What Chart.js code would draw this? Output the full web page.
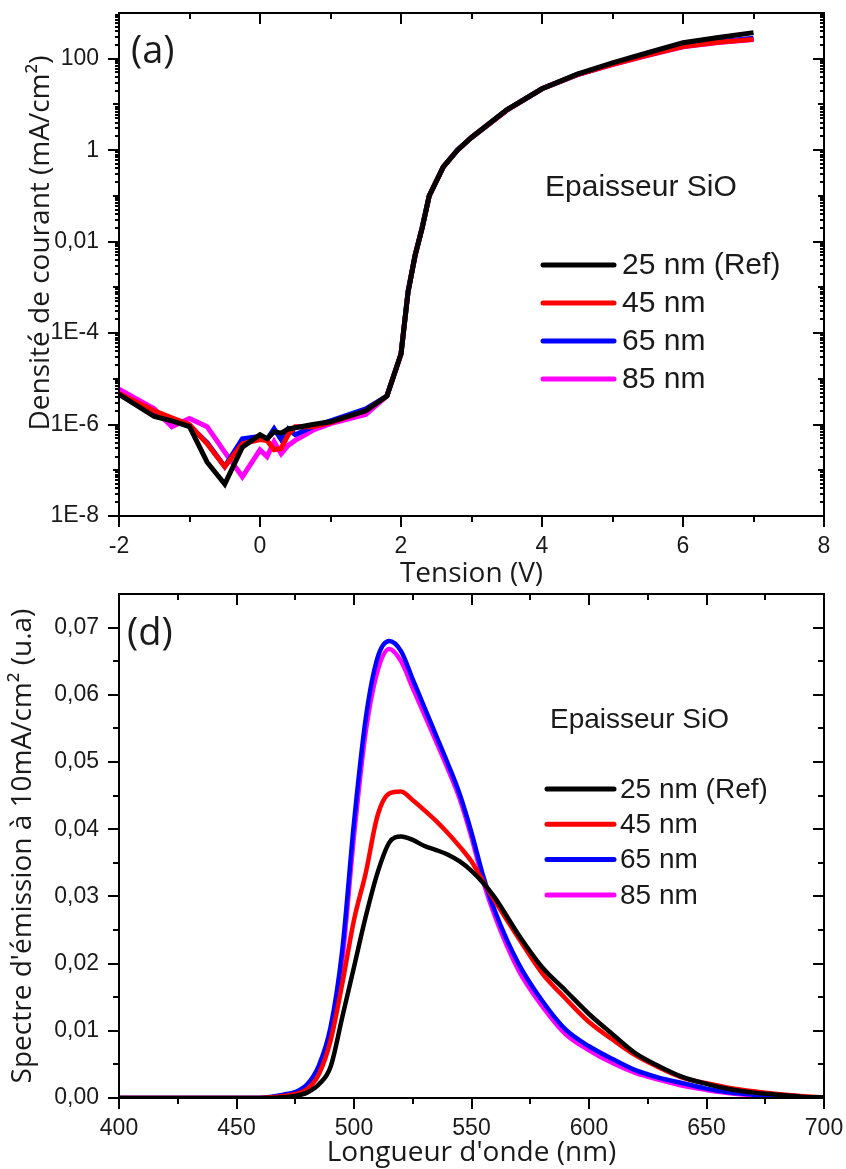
<!DOCTYPE html>
<html>
<head>
<meta charset="utf-8">
<script src="https://cdn.jsdelivr.net/npm/chart.js@4.4.1/dist/chart.umd.min.js"></script>
<style>
    html, body { margin: 0; padding: 0; background: #fff; }
    #page { position: relative; width: 846px; height: 1169px; }
    canvas { position: absolute; left: 0; }
    #grapheA { top: 0; }
    #grapheD { top: 580px; }
</style>
</head>
<body>
<div id="page">
    <canvas id="grapheA" width="846" height="590"></canvas>
    <canvas id="grapheD" width="846" height="589"></canvas>
</div>
<script>
// Séries (épaisseur de SiO) et couleurs
var series = ['25 nm (Ref)', '45 nm', '65 nm', '85 nm'];
var couleurs = ['#000000', '#ff0000', '#0000ff', '#ff00ff'];

// (a) Densité de courant (mA/cm²) en fonction de la tension (V)
var tension = [-2, -1.5, -1.25, -1, -0.75, -0.5, -0.25, 0, 0.1, 0.2, 0.3, 0.4, 0.5, 0.75, 1, 1.5, 1.8,
    2, 2.1, 2.2, 2.3, 2.4, 2.6, 2.8, 3, 3.5, 4, 4.5, 5, 5.5, 6, 6.5, 7];
var densite25 = [4.6e-6, 1.5e-6, 1.2e-6, 9e-7, 1.5e-7, 5e-8, 3.2e-7, 6e-7, 4.9e-7, 7e-7, 6.5e-7, 8e-7, 8.5e-7, 1.0e-6, 1.15e-6, 2.0e-6, 4.2e-6,
    3.5e-5, 8e-4, 5e-3, 0.02, 0.1, 0.43, 1.0, 1.9, 7.6, 22, 46, 81, 135, 224, 290, 372];
var densite45 = [4.8e-6, 2.0e-6, 1.4e-6, 1.0e-6, 3.8e-7, 1.2e-7, 3.8e-7, 4.7e-7, 4.5e-7, 2.8e-7, 3.0e-7, 6e-7, 9e-7, 9e-7, 1.1e-6, 2.0e-6, 4.2e-6,
    3.5e-5, 8e-4, 5e-3, 0.02, 0.1, 0.43, 1.0, 1.9, 7.5, 22, 45, 75, 120, 185, 228, 265];
var densite65 = [4.6e-6, 1.7e-6, 1.3e-6, 9.5e-7, 4e-7, 1.2e-7, 4.9e-7, 5.5e-7, 4.7e-7, 8.1e-7, 4.7e-7, 8e-7, 6e-7, 9e-7, 1.2e-6, 2.2e-6, 4.2e-6,
    3.5e-5, 8e-4, 5e-3, 0.02, 0.1, 0.43, 1.0, 1.9, 7.5, 22, 45, 77, 122, 190, 235, 280];
var densite85 = [5.9e-6, 2.2e-6, 9e-7, 1.35e-6, 9e-7, 2.5e-7, 7.2e-8, 2.8e-7, 2.0e-7, 4.2e-7, 2.3e-7, 3.5e-7, 4.5e-7, 7.5e-7, 1.05e-6, 1.66e-6, 4.2e-6,
    3.5e-5, 8e-4, 5e-3, 0.02, 0.1, 0.43, 1.0, 1.9, 7.5, 22, 45, 74, 118, 182, 225, 263];
var tensionTicks = [-2, 0, 2, 4, 6, 8];
var tensionTicksMineurs = [-1, 1, 3, 5, 7];
var densiteTicks = [1e-8, 1e-6, 1e-4, 1e-2, 1, 100];
var densiteLabels = ['1E-8', '1E-6', '1E-4', '0,01', '1', '100'];

// (d) Spectre d'émission à 10 mA/cm² en fonction de la longueur d'onde (nm)
var longueurOnde = [400, 420, 440, 460, 465, 470, 475, 480, 485, 490, 495, 500, 505, 510, 515, 520, 525, 530, 535, 540,
    545, 550, 555, 560, 570, 580, 590, 600, 610, 620, 630, 640, 650, 660, 670, 680, 690, 700];
var spectre25 = [0, 0, 0, 0, 0, 0.0001, 0.0003, 0.0008, 0.002, 0.0046, 0.012, 0.0195, 0.027, 0.0335, 0.038, 0.0389, 0.0384, 0.0375, 0.0369, 0.0362,
    0.0352, 0.0338, 0.032, 0.0298, 0.0243, 0.0195, 0.016, 0.0125, 0.0095, 0.0066, 0.0047, 0.0031, 0.0021, 0.0013, 0.0008, 0.0005, 0.0002, 0.0001];
var spectre45 = [0, 0, 0, 0, 0.0001, 0.0003, 0.0006, 0.0013, 0.0035, 0.0085, 0.017, 0.0265, 0.0335, 0.042, 0.0453, 0.0456, 0.0443, 0.0428, 0.0412, 0.0394,
    0.0374, 0.0352, 0.0322, 0.0293, 0.0238, 0.0186, 0.0148, 0.0113, 0.0087, 0.0063, 0.0045, 0.003, 0.0022, 0.0015, 0.001, 0.0006, 0.0003, 0.0001];
var spectre65 = [0, 0, 0, 0, 0.0002, 0.0005, 0.0009, 0.002, 0.0048, 0.0105, 0.022, 0.041, 0.0565, 0.0655, 0.068, 0.0665, 0.0623, 0.0581, 0.0539, 0.0497,
    0.0452, 0.0395, 0.033, 0.0278, 0.020, 0.0145, 0.0102, 0.0077, 0.0058, 0.0041, 0.003, 0.0022, 0.0014, 0.0008, 0.0005, 0.0003, 0.0001, 0];
var spectre85 = [0, 0, 0, 0, 0.0001, 0.0004, 0.0007, 0.0017, 0.0042, 0.0095, 0.0205, 0.039, 0.0545, 0.0635, 0.0668, 0.065, 0.061, 0.057, 0.053, 0.0489,
    0.0445, 0.0388, 0.0322, 0.027, 0.019, 0.0137, 0.0095, 0.0071, 0.0052, 0.0037, 0.0027, 0.0018, 0.0012, 0.0007, 0.0004, 0.0002, 0.0001, 0];
var ondeTicks = [400, 450, 500, 550, 600, 650, 700];
var ondeTicksMineurs = [425, 475, 525, 575, 625, 675];
var spectreTicks = [0, 0.01, 0.02, 0.03, 0.04, 0.05, 0.06, 0.07];
var spectreLabels = ['0,00', '0,01', '0,02', '0,03', '0,04', '0,05', '0,06', '0,07'];
var spectreTicksMineurs = [0.005, 0.015, 0.025, 0.035, 0.045, 0.055, 0.065];

var policeTicks = { family: '"Liberation Sans", Arial, sans-serif', size: 23 };
var policeTitre = { family: '"Open Sans", sans-serif', size: 28, lineHeight: 1 };
var texte = '#1a1a1a';

// Cadre complet et graduations (vers l'extérieur en bas/gauche, vers l'intérieur en haut/droite)
var cadre = {
    id: 'cadre',
    afterDatasetsDraw: function (chart, args, o) {
        var ctx = chart.ctx, a = chart.chartArea;
        var sx = chart.scales.x, sy = chart.scales.y;
        ctx.save();
        ctx.strokeStyle = '#000';
        ctx.lineWidth = 2;
        function trait(x1, y1, x2, y2) {
            ctx.beginPath(); ctx.moveTo(x1, y1); ctx.lineTo(x2, y2); ctx.stroke();
        }
        o.x.forEach(function (t) {
            var px = Math.round(sx.getPixelForValue(t[0]));
            trait(px, a.bottom, px, a.bottom + t[1]);
            trait(px, a.top, px, a.top + t[1]);
        });
        o.y.forEach(function (t) {
            var py = Math.round(sy.getPixelForValue(t[0]));
            if (py < a.top - 1 || py > a.bottom + 1) return;
            trait(a.left - t[1], py, a.left, py);
            trait(a.right - t[1], py, a.right, py);
        });
        ctx.strokeRect(a.left, a.top, a.right - a.left, a.bottom - a.top);
        ctx.restore();
    }
};

// Légende "Epaisseur SiO", étiquette du panneau et titre vertical décalé du graphe (a)
var legendeSiO = {
    id: 'legendeSiO',
    afterDraw: function (chart, args, o) {
        var ctx = chart.ctx;
        ctx.save();
        ctx.fillStyle = texte;
        ctx.textBaseline = 'middle';
        ctx.font = '38px "Open Sans", sans-serif';
        ctx.fillText(o.panneau, o.panneauX, o.panneauY);
        ctx.font = o.taille + 'px "Liberation Sans", Arial, sans-serif';
        ctx.fillText('Epaisseur SiO', o.titreX, o.titreY);
        chart.data.datasets.forEach(function (ds, i) {
            var y = o.y0 + i * o.pas;
            ctx.strokeStyle = ds.borderColor;
            ctx.lineWidth = 5;
            ctx.lineCap = 'round';
            ctx.beginPath(); ctx.moveTo(o.x1, y); ctx.lineTo(o.x2, y); ctx.stroke();
            ctx.fillText(ds.label, o.xTexte, y + 1);
        });
        if (o.axeY) {
            ctx.translate(o.axeY.x, o.axeY.y);
            ctx.rotate(-Math.PI / 2);
            ctx.font = '28px "Open Sans", sans-serif';
            ctx.textAlign = 'center';
            ctx.textBaseline = 'alphabetic';
            ctx.fillText(o.axeY.texte, 0, 0);
        }
        ctx.restore();
    }
};

function jeuxDeDonnees(xs, valeurs, options) {
    return valeurs.map(function (serie, i) {
        return Object.assign({
            label: series[i],
            data: xs.map(function (x, k) { return { x: x, y: serie[k] }; }),
            borderColor: couleurs[i],
            backgroundColor: couleurs[i],
            borderWidth: 4.5,
            pointRadius: 0,
            fill: false
        }, options);
    });
}

function ticksFixes(valeurs) {
    return function (s) { s.ticks = valeurs.map(function (v) { return { value: v }; }); };
}

// Taille fixe des axes, sans marge réservée au débordement des étiquettes
function hauteurX(h) {
    return function (s) { s.height = h; s.paddingLeft = 0; s.paddingRight = 0; };
}
function largeurY(s) {
    s.width = 119; s.paddingTop = 0; s.paddingBottom = 0;
}

// Graduations de l'échelle log : décades paires longues, impaires moyennes, sous-décades courtes
var gradLog = [];
for (var d = -8; d <= 2; d++) {
    for (var k = 1; k <= 9; k++) {
        gradLog.push([k * Math.pow(10, d), k === 1 ? (d % 2 === 0 ? 11 : 6) : 4]);
    }
}

new Chart(document.getElementById('grapheA'), {
    type: 'line',
    data: { datasets: jeuxDeDonnees(tension, [densite25, densite45, densite65, densite85], { tension: 0, borderWidth: 5 }) },
    options: {
        responsive: false,
        animation: false,
        devicePixelRatio: 1,
        layout: { padding: { top: 13, right: 22, left: 0, bottom: 0 } },
        plugins: {
            legend: { display: false },
            tooltip: { enabled: false },
            cadre: {
                x: tensionTicks.map(function (v) { return [v, 11]; }).concat(tensionTicksMineurs.map(function (v) { return [v, 6]; })),
                y: gradLog
            },
            legendeSiO: {
                panneau: '(a)', panneauX: 131, panneauY: 52,
                taille: 30, titreX: 545, titreY: 188,
                x1: 543, x2: 614, xTexte: 622, y0: 265, pas: 38,
                axeY: { texte: 'Densité de courant (mA/cm²)', x: 49, y: 243 }
            }
        },
        scales: {
            x: {
                type: 'linear', min: -2, max: 8,
                grid: { display: false }, border: { display: false },
                afterBuildTicks: ticksFixes(tensionTicks),
                afterFit: hauteurX(74),
                ticks: { font: policeTicks, color: texte, padding: 9, maxRotation: 0, autoSkip: false,
                    callback: function (v) { return String(v); } },
                title: { display: true, text: 'Tension (V)', font: policeTitre, color: texte, padding: { top: 2, bottom: 2 } }
            },
            y: {
                type: 'logarithmic', min: 1e-8, max: 1000,
                grid: { display: false }, border: { display: false },
                afterBuildTicks: ticksFixes(densiteTicks),
                afterFit: largeurY,
                ticks: { font: policeTicks, color: texte, padding: 12, autoSkip: false,
                    callback: function (v, i) { return densiteLabels[i]; } },
                title: { display: false }
            }
        }
    },
    plugins: [cadre, legendeSiO]
});

new Chart(document.getElementById('grapheD'), {
    type: 'line',
    data: { datasets: jeuxDeDonnees(longueurOnde, [spectre25, spectre45, spectre65, spectre85], { cubicInterpolationMode: 'monotone' }) },
    options: {
        responsive: false,
        animation: false,
        devicePixelRatio: 1,
        layout: { padding: { top: 14, right: 22, left: 0, bottom: 0 } },
        plugins: {
            legend: { display: false },
            tooltip: { enabled: false },
            cadre: {
                x: ondeTicks.map(function (v) { return [v, 11]; }).concat(ondeTicksMineurs.map(function (v) { return [v, 6]; })),
                y: spectreTicks.map(function (v) { return [v, 11]; }).concat(spectreTicksMineurs.map(function (v) { return [v, 6]; }))
            },
            legendeSiO: {
                panneau: '(d)', panneauX: 127, panneauY: 54,
                taille: 28, titreX: 550, titreY: 140,
                x1: 547, x2: 614, xTexte: 620, y0: 209, pas: 35.3
            }
        },
        scales: {
            x: {
                type: 'linear', min: 400, max: 700,
                grid: { display: false }, border: { display: false },
                afterBuildTicks: ticksFixes(ondeTicks),
                afterFit: hauteurX(71),
                ticks: { font: policeTicks, color: texte, padding: 9, maxRotation: 0, autoSkip: false,
                    callback: function (v) { return String(v); } },
                title: { display: true, text: "Longueur d'onde (nm)", font: policeTitre, color: texte, padding: { top: 2, bottom: 2 } }
            },
            y: {
                type: 'linear', min: 0, max: 0.075,
                grid: { display: false }, border: { display: false },
                afterBuildTicks: ticksFixes(spectreTicks),
                afterFit: largeurY,
                ticks: { font: policeTicks, color: texte, padding: 12, autoSkip: false,
                    callback: function (v, i) { return spectreLabels[i]; } },
                title: { display: true, text: "Spectre d'émission à 10mA/cm² (u.a)", font: policeTitre, color: texte, padding: { top: 9, bottom: 0 } }
            }
        }
    },
    plugins: [cadre, legendeSiO]
});
</script>
</body>
</html>
